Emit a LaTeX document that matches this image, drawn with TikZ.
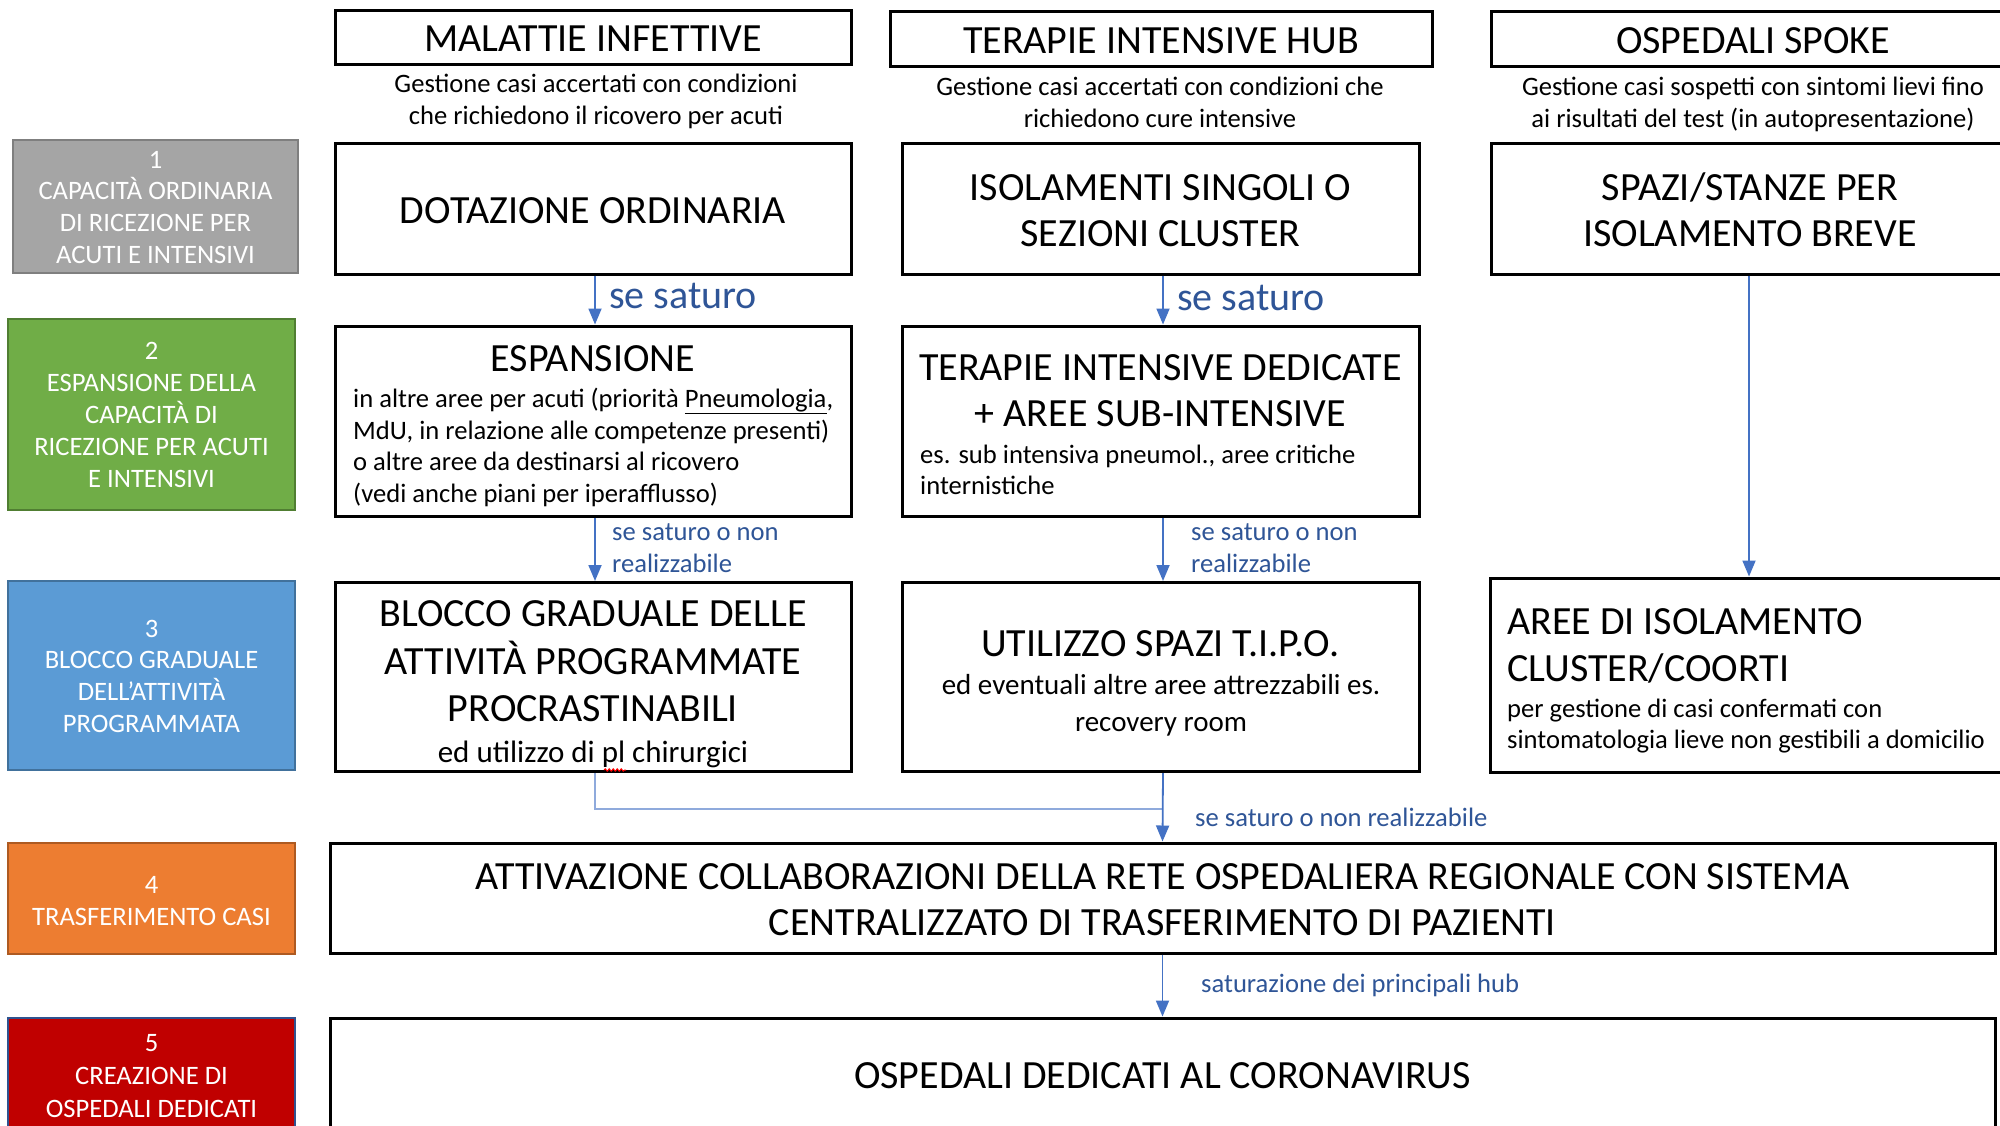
\documentclass[tikz,border=0pt]{standalone}
\usepackage{fontspec}
\setmainfont{Carlito}
\usetikzlibrary{arrows.meta,decorations.pathmorphing}
\definecolor{grayF}{RGB}{165,165,165}\definecolor{grayB}{RGB}{127,127,127}
\definecolor{greenF}{RGB}{112,173,71}\definecolor{greenB}{RGB}{80,126,50}
\definecolor{blueF}{RGB}{91,155,213}\definecolor{blueB}{RGB}{65,113,156}
\definecolor{orangeF}{RGB}{237,125,49}\definecolor{orangeB}{RGB}{174,90,33}
\definecolor{redF}{RGB}{192,0,0}\definecolor{redB}{RGB}{47,82,143}
\definecolor{arrowc}{RGB}{68,114,196}
\definecolor{textblue}{RGB}{47,85,151}
\definecolor{lightline}{RGB}{143,170,220}
\tikzset{
  box/.style={draw=black, line width=3pt, inner sep=0pt, fill=white},
  lab/.style={line width=2.5pt, inner sep=0pt},
  labt/.style={text=white, align=center, font=\fontsize{26.6}{31.8}\selectfont, inner sep=0pt, anchor=base},
  big/.style={font=\fontsize{40}{46}\selectfont, align=center, inner sep=0pt, anchor=base},
  bigl/.style={font=\fontsize{40}{47}\selectfont, align=left, inner sep=0pt, anchor=base west},
  small/.style={font=\fontsize{26.6}{32}\selectfont, align=center, inner sep=0pt, anchor=base},
  smalll/.style={font=\fontsize{26.6}{31.7}\selectfont, align=left, inner sep=0pt, anchor=base west},
  conn/.style={draw=arrowc, line width=1.8pt},
  arr/.style={conn, -{Triangle[length=16pt,width=13pt]}},
  blab/.style={text=textblue, anchor=base west, inner sep=0pt, align=left, font=\fontsize{26.6}{32}\selectfont},
  blabbig/.style={text=textblue, anchor=base west, inner sep=0pt, font=\fontsize{40}{46}\selectfont}
}
\begin{document}
\begin{tikzpicture}[x=1pt,y=-1pt]
\useasboundingbox (0,0) rectangle (2000,1125);
\fill[white] (0,0) rectangle (2000,1125);

% left labels (anchor = baseline of last line)
\node[lab, draw=grayB, fill=grayF, minimum width=285pt, minimum height=133pt] (L1) at (155.5,206.5) {};
\node[labt] (L1t) at (155.5,263.5) {1\\CAPACITÀ ORDINARIA\\DI RICEZIONE PER\\ACUTI E INTENSIVI};
\node[lab, draw=greenB, fill=greenF, minimum width=287pt, minimum height=191pt] (L2) at (151.5,414.5) {};
\node[labt, font=\fontsize{26.6}{32}\selectfont] (L2t) at (151.5,487.5) {2\\ESPANSIONE DELLA\\CAPACITÀ DI\\RICEZIONE PER ACUTI\\E INTENSIVI};
\node[lab, draw=blueB, fill=blueF, minimum width=287pt, minimum height=189pt] (L3) at (151.5,675.5) {};
\node[labt] (L3t) at (151.5,732.5) {3\\BLOCCO GRADUALE\\DELL’ATTIVITÀ\\PROGRAMMATA};
\node[lab, draw=orangeB, fill=orangeF, minimum width=287pt, minimum height=111pt] (L4) at (151.5,898.5) {};
\node[labt] (L4t) at (151.5,925.5) {4\\TRASFERIMENTO CASI};
\node[lab, draw=redB, fill=redF, minimum width=287pt, minimum height=126pt] (L5) at (151.5,1081) {};
\node[labt, font=\fontsize{26.6}{32.9}\selectfont] (L5t) at (151.5,1117) {5\\CREAZIONE DI\\OSPEDALI DEDICATI};

% headers
\node[box, minimum width=516pt, minimum height=54pt] (h1) at (593,37) {};
\node[big] (h1t) at (593,51.5) {MALATTIE INFETTIVE};
\node[box, minimum width=542pt, minimum height=55pt] (h2) at (1161,38.5) {};
\node[big] (h2t) at (1161,53.5) {TERAPIE INTENSIVE HUB};
\node[box, minimum width=519pt, minimum height=55pt] (h3) at (1750.5,38.5) {};
\node[big] (h3t) at (1753,53.5) {OSPEDALI SPOKE};

\node[small] (s1) at (596,124) {Gestione casi accertati con condizioni\\che richiedono il ricovero per acuti};
\node[small] (s2) at (1160,127) {Gestione casi accertati con condizioni che\\richiedono cure intensive};
\node[small] (s3) at (1753,127) {Gestione casi sospetti con sintomi lievi fino\\ai risultati del test (in autopresentazione)};

% row 1
\node[box, minimum width=516pt, minimum height=131pt] (r1a) at (593,208.5) {};
\node[big] (r1at) at (593,223) {DOTAZIONE ORDINARIA};
\node[box, minimum width=517pt, minimum height=131pt] (r1b) at (1160.5,208.5) {};
\node[big] (r1bt) at (1160.5,246) {ISOLAMENTI SINGOLI O\\SEZIONI CLUSTER};
\node[box, minimum width=519pt, minimum height=131pt] (r1c) at (1750.5,208.5) {};
\node[big] (r1ct) at (1750,246) {SPAZI/STANZE PER\\ISOLAMENTO BREVE};

% row 2
\node[box, minimum width=516pt, minimum height=190pt] (r2a) at (593,421) {};
\node[big] (r2at) at (593,371) {ESPANSIONE};
\node[smalll] (r2ab) at (353,502.5) {in altre aree per acuti (priorità \underline{Pneumologia},\\MdU, in relazione alle competenze presenti)\\o altre aree da destinarsi al ricovero\\(vedi anche piani per iperafflusso)};
\node[box, minimum width=517pt, minimum height=190pt] (r2b) at (1160.5,421) {};
\node[big] (r2bt) at (1160.5,426) {TERAPIE INTENSIVE DEDICATE\\+ AREE SUB-INTENSIVE};
\node[smalll, font=\fontsize{26.6}{31}\selectfont] (r2bb) at (920,494.5) {es. sub intensiva pneumol., aree critiche\\internistiche};

% row 3
\node[box, minimum width=516pt, minimum height=189pt] (r3a) at (593,677) {};
\node[big, font=\fontsize{40}{47.3}\selectfont] (r3at) at (593,721.5) {BLOCCO GRADUALE DELLE\\ATTIVITÀ PROGRAMMATE\\PROCRASTINABILI};
\node[small, font=\fontsize{31}{36}\selectfont] (r3ab) at (593,762) {ed utilizzo di pl chirurgici};
\draw[red, line width=1pt, decorate, decoration={snake, amplitude=1.2pt, segment length=4pt}] (604,770) -- (626,770);
\node[box, minimum width=517pt, minimum height=189pt] (r3b) at (1160.5,677) {};
\node[big] (r3bt) at (1160.5,656) {UTILIZZO SPAZI T.I.P.O.};
\node[small, font=\fontsize{29}{37}\selectfont] (r3bb) at (1161,731.5) {ed eventuali altre aree attrezzabili es.\\recovery room};
\node[box, minimum width=520pt, minimum height=194pt] (r3c) at (1750,675) {};
\node[bigl] (r3ct) at (1507,681.5) {AREE DI ISOLAMENTO\\CLUSTER/COORTI};
\node[smalll, font=\fontsize{26.6}{31.4}\selectfont] (r3cb) at (1507,748.5) {per gestione di casi confermati con\\sintomatologia lieve non gestibili a domicilio};

% row 4 and 5
\node[box, minimum width=1665pt, minimum height=110pt] (r4) at (1162.5,898) {};
\node[big] (r4t) at (1162.5,935) {ATTIVAZIONE COLLABORAZIONI DELLA RETE OSPEDALIERA REGIONALE CON SISTEMA\\CENTRALIZZATO DI TRASFERIMENTO DI PAZIENTI};
\node[box, minimum width=1665pt, minimum height=130pt] (r5) at (1162.5,1083) {};
\node[big] (r5t) at (1162.5,1088) {OSPEDALI DEDICATI AL CORONAVIRUS};

% connectors
\draw[arr] ([xshift=2pt]r1a.south) -- ([xshift=2pt]r2a.north);
\node[blabbig] (a1) at (609,308) {se saturo};
\draw[arr] ([xshift=2.5pt]r1b.south) -- ([xshift=2.5pt]r2b.north);
\node[blabbig] (a2) at (1177,310.5) {se saturo};
\draw[arr] ([xshift=2pt]r2a.south) -- ([xshift=2pt]r3a.north);
\node[blab] (a3) at (612,572) {se saturo o non\\realizzabile};
\draw[arr] ([xshift=2.5pt]r2b.south) -- ([xshift=2.5pt]r3b.north);
\node[blab] (a4) at (1191,572) {se saturo o non\\realizzabile};
\draw[arr] (r1c.south -| 1749,0) -- (r3c.north -| 1749,0);
\coordinate (j1) at (595,809);
\coordinate (j2) at (1163,809);
\draw[draw=lightline, line width=2.2pt] ([xshift=2pt]r3a.south) -- (j1) -- (j2);
\draw[arr] ([xshift=2.5pt]r3b.south) -- (r4.north);
\node[blab] (a5) at (1195,826) {se saturo o non realizzabile};
\draw[arr] (r4.south) -- (r5.north);
\node[blab] (a6) at (1201,992) {saturazione dei principali hub};
\end{tikzpicture}
\end{document}
